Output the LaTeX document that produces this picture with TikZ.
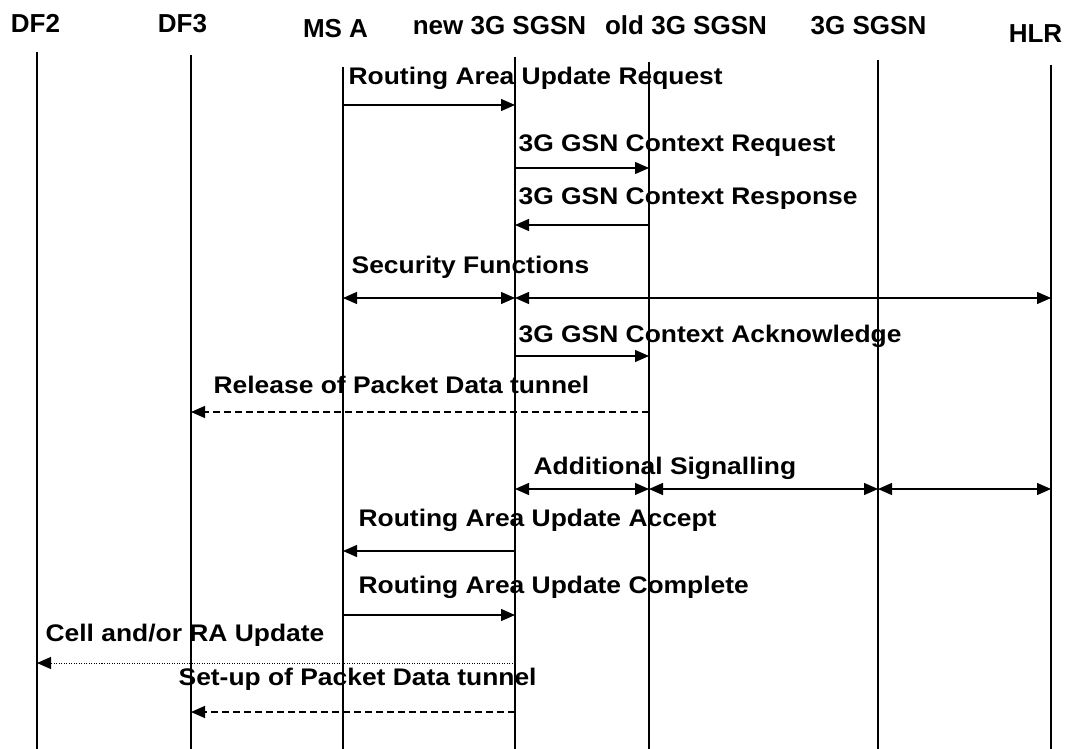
\documentclass[tikz,border=0pt]{standalone}
\usepackage{fontspec}
\setmainfont{Liberation Sans}
\newfontfamily\msgfont[FakeStretch=1.1]{Liberation Sans}
\usetikzlibrary{arrows.meta}

\begin{document}
\begin{tikzpicture}[x=1pt,y=-1pt,line width=1.3pt,
  hdr/.style={anchor=base,inner sep=0pt,font=\fontsize{26}{30}\selectfont\bfseries},
  lbl/.style={anchor=base west,inner sep=0pt,font=\msgfont\fontsize{24}{28}\selectfont\bfseries},
  life/.style={line width=1.3pt},
  msg/.style={-{Triangle[length=14pt,width=12pt]}},
  both/.style={{Triangle[length=14pt,width=12pt]}-{Triangle[length=14pt,width=12pt]}},
  tunnel/.style={msg,dash pattern=on 7pt off 4pt},
  dots/.style={msg,line width=1pt,dash pattern=on 1pt off 1.5pt}]
\useasboundingbox (0,0) rectangle (1068,749);
% heads of the lifelines
\node[hdr] (df2h) at (35.5,33){DF2};
\node[hdr] (df3h) at (182.5,33){DF3};
\node[hdr] (msah) at (335.5,38){MS A};
\node[hdr] (newh) at (499.5,35){new 3G SGSN};
\node[hdr] (oldh) at (686,35){old 3G SGSN};
\node[hdr] (sgsnh) at (868.5,35){3G SGSN};
\node[hdr] (hlrh) at (1035.5,43){HLR};
% lifelines
\coordinate (df2) at (37,52);\coordinate (df2e) at (37,749);
\coordinate (df3) at (191,55);\coordinate (df3e) at (191,749);
\coordinate (msa) at (343,67);\coordinate (msae) at (343,749);
\coordinate (new) at (515,57);\coordinate (newe) at (515,749);
\coordinate (old) at (649,62);\coordinate (olde) at (649,749);
\coordinate (sgsn) at (878,60);\coordinate (sgsne) at (878,749);
\coordinate (hlr) at (1051,65);\coordinate (hlre) at (1051,749);
\foreach \l in {df2,df3,msa,new,old,sgsn,hlr}{\draw[life](\l)--(\l e);}
% messages
\node[lbl] (m1) at (348,85){Routing Area Update Request};
\draw[msg](msa|-0,105)--(new|-0,105);
\node[lbl] (m2) at (518,151){3G GSN Context Request};
\draw[msg](new|-0,168)--(old|-0,168);
\node[lbl] (m3) at (518,204){3G GSN Context Response};
\draw[msg](old|-0,225)--(new|-0,225);
\node[lbl] (m4) at (351,273){Security Functions};
\draw[both](msa|-0,298)--(new|-0,298);\draw[both](new|-0,298)--(hlr|-0,298);
\node[lbl] (m5) at (518,342){3G GSN Context Acknowledge};
\draw[msg](new|-0,356)--(old|-0,356);
\node[lbl] (m6) at (213,393){Release of Packet Data tunnel};
\draw[tunnel](old|-0,412)--(df3|-0,412);
\node[lbl] (m7) at (533,474){Additional Signalling};
\draw[both](new|-0,489)--(old|-0,489);\draw[both](old|-0,489)--(sgsn|-0,489);\draw[both](sgsn|-0,489)--(hlr|-0,489);
\node[lbl] (m8) at (358,526){Routing Area Update Accept};
\draw[msg](new|-0,551)--(msa|-0,551);
\node[lbl] (m9) at (358,593){Routing Area Update Complete};
\draw[msg](msa|-0,615)--(new|-0,615);
\node[lbl] (m10) at (45,641){Cell and/or RA Update};
\draw[dots](new|-0,663)--(df2|-0,663);
\node[lbl] (m11) at (178,685){Set-up of Packet Data tunnel};
\draw[tunnel](new|-0,712)--(df3|-0,712);
\end{tikzpicture}
\end{document}
